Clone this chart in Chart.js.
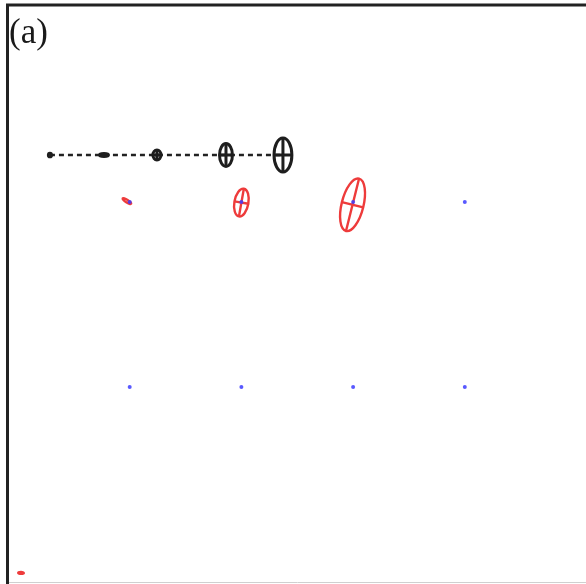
<!DOCTYPE html>
<html>
<head>
<meta charset="utf-8">
<script src="https://cdn.jsdelivr.net/npm/chart.js@4/dist/chart.umd.min.js"></script>
<style>
  body { margin: 0; background: #fff; }
  #wrap { position: relative; width: 586px; height: 584px; }
  #label { position: absolute; left: 9px; top: 12px; font-family: "Liberation Serif", serif; font-size: 35px; color: #1a1a1a; }
</style>
</head>
<body>
<div id="wrap">
  <canvas id="Figure-Chart" width="586" height="584"></canvas>
  <div id="label">(a)</div>
</div>
<script>
//-------------------------------------------------- Data
// blue reference grid
const gridX = [1, 2, 3, 4];
const gridY = [1, 2];

// black dashed track: centres + semi axes (x units, y units)
const trackX  = [0.286, 0.77, 1.244, 1.862, 2.372];
const trackY  = [2.254, 2.254, 2.254, 2.254, 2.254];
const trackRx = [0.014, 0.04, 0.036, 0.058, 0.08];
const trackRy = [0.01, 0.008, 0.027, 0.062, 0.092];

// red ellipses: centres, semi axes, tilt (deg)
const redX     = [0.975, 2.0, 2.995, 0.027];
const redY     = [2.005, 1.997, 1.985, -0.005];
const redRx    = [0.012, 0.063, 0.098, 0.025];
const redRy    = [0.027, 0.076, 0.146, 0.005];
const redAngle = [-58, 10, 14, 0];
//^^^^^^^^^^^^^^^^^^^^^^^^^^^^^^^^^^^^^^^^^^^^^^^^^^ Data

const gridPts = [];
gridY.forEach(y => gridX.forEach(x => gridPts.push({x: x, y: y})));

function drawEllipse(ctx, sx, sy, x, y, rx, ry, ang, withAxes) {
	const cx = sx.getPixelForValue(x), cy = sy.getPixelForValue(y);
	const px = Math.abs(sx.getPixelForValue(x + rx) - cx);
	const py = Math.abs(sy.getPixelForValue(y + ry) - cy);
	ctx.save();
	ctx.translate(cx, cy);
	ctx.rotate(ang * Math.PI / 180);
	ctx.beginPath();
	ctx.ellipse(0, 0, px, py, 0, 0, 2 * Math.PI);
	ctx.stroke();
	if (withAxes) {
		ctx.beginPath();
		ctx.moveTo(-px, 0); ctx.lineTo(px, 0);
		ctx.moveTo(0, -py); ctx.lineTo(0, py);
		ctx.stroke();
	}
	ctx.restore();
}

const ellipsePlugin = {
	id: "ellipses",
	beforeDraw(chart) {
		const ctx = chart.ctx;
		ctx.save();
		ctx.fillStyle = "#fff";
		ctx.fillRect(0, 0, chart.width, chart.height);
		ctx.strokeStyle = "#222";
		ctx.lineWidth = 3;
		ctx.beginPath();
		ctx.moveTo(7.5, 584); ctx.lineTo(7.5, 5); ctx.lineTo(586, 5);
		ctx.stroke();
		ctx.strokeStyle = "#d0d0d0";
		ctx.lineWidth = 1;
		ctx.beginPath();
		ctx.moveTo(9, 582.5); ctx.lineTo(586, 582.5);
		ctx.stroke();
		ctx.restore();
	},
	afterDatasetsDraw(chart) {
		const ctx = chart.ctx, sx = chart.scales.x, sy = chart.scales.y;
		ctx.save();
		ctx.lineWidth = 3;
		ctx.strokeStyle = "#1e1e1e";
		for (let i = 0; i < trackX.length; i++) {
			drawEllipse(ctx, sx, sy, trackX[i], trackY[i], trackRx[i], trackRy[i], 0, i >= 2);
		}
		ctx.strokeStyle = "#ee3b3b";
		ctx.lineWidth = 2.4;
		for (let i = 0; i < redX.length; i++) {
			drawEllipse(ctx, sx, sy, redX[i], redY[i], redRx[i], redRy[i], redAngle[i], i == 1 || i == 2);
		}
		ctx.fillStyle = "rgba(60,60,255,0.85)";
		gridPts.forEach(p => {
			ctx.beginPath();
			ctx.arc(sx.getPixelForValue(p.x), sy.getPixelForValue(p.y), 2, 0, 2 * Math.PI);
			ctx.fill();
		});
		ctx.restore();
	}
};

new Chart(document.getElementById("Figure-Chart").getContext("2d"), {
	type: "scatter",
	data: {
		datasets: [
			{
				data: trackX.map((x, i) => ({x: x, y: trackY[i]})),
				showLine: true,
				borderColor: "#222",
				borderWidth: 2.5,
				borderDash: [5, 4],
				pointRadius: 0
			},
			{
				data: gridPts,
				pointRadius: 0
			}
		]
	},
	options: {
		responsive: false,
		animation: false,
		layout: {padding: 0},
		plugins: {legend: {display: false}, tooltip: {enabled: false}},
		scales: {
			x: {type: "linear", display: false, min: -0.1611, max: 5.085},
			y: {type: "linear", display: false, min: -0.0649, max: 3.092}
		}
	},
	plugins: [ellipsePlugin]
});
</script>
</body>
</html>
